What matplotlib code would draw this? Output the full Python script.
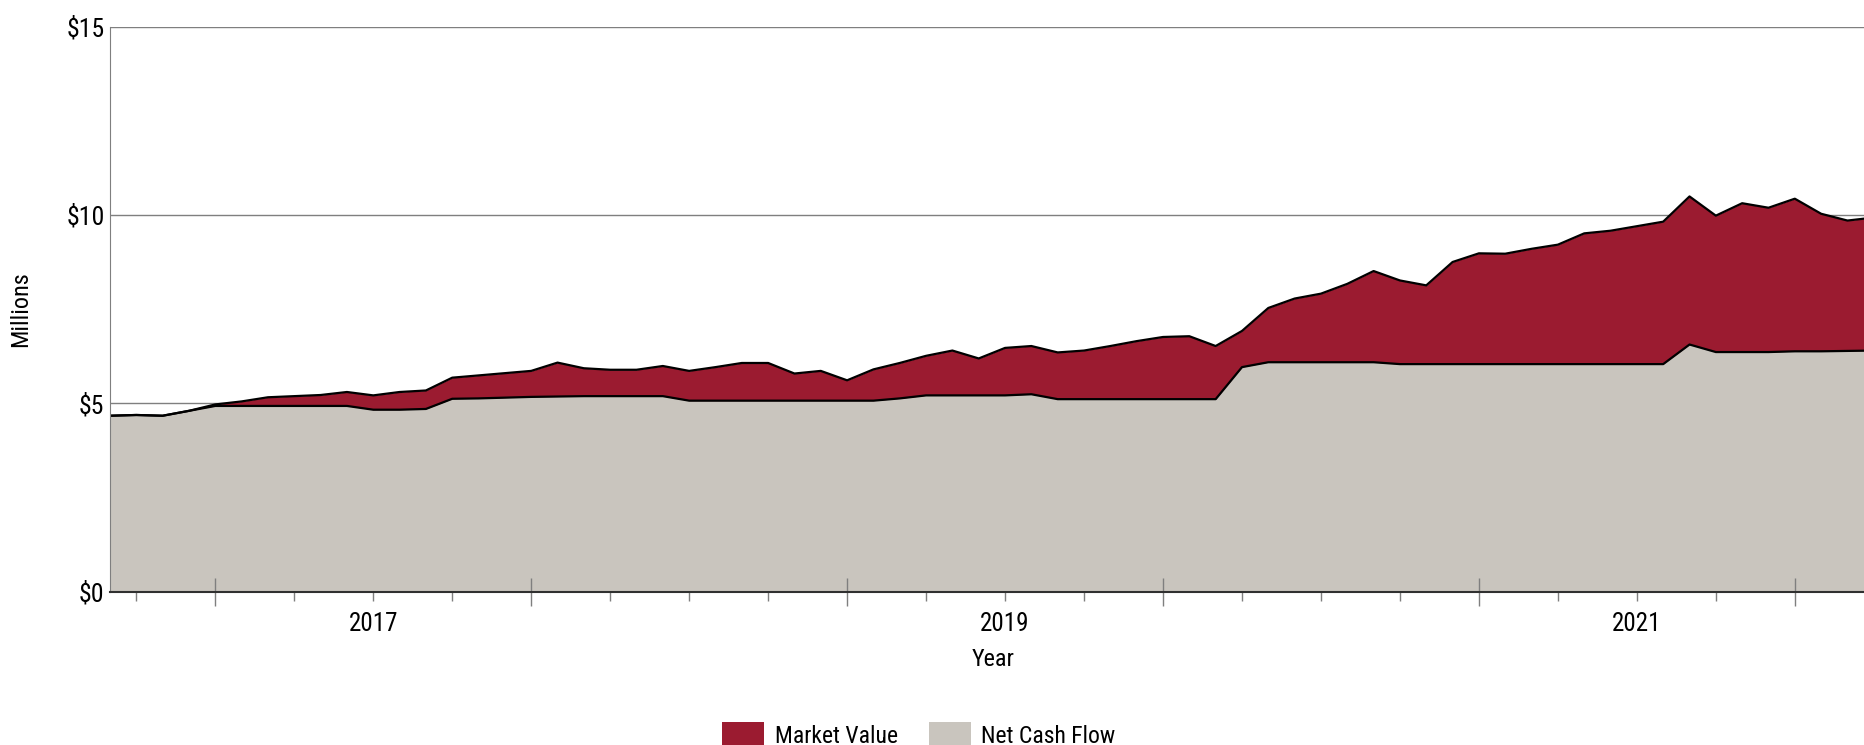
import numpy as np
import pandas as pd
import matplotlib
matplotlib.use("Agg")
import matplotlib.pyplot as plt
from matplotlib import font_manager as fm
from matplotlib.patches import Patch

# monthly values, $ millions
months = pd.date_range("2016-03-01", periods=68, freq="MS")

market_value = [4.67, 4.69, 4.67, 4.80, 4.97, 5.05, 5.16, 5.19, 5.22, 5.30,
                5.21, 5.30, 5.34, 5.68, 5.74, 5.80, 5.86, 6.08, 5.93, 5.89,
                5.89, 5.99, 5.86, 5.96, 6.07, 6.07, 5.79, 5.86, 5.61, 5.90,
                6.07, 6.26, 6.40, 6.19, 6.47, 6.52, 6.35, 6.40, 6.52, 6.65,
                6.76, 6.78, 6.52, 6.92, 7.53, 7.78, 7.91, 8.17, 8.51, 8.26,
                8.13, 8.75, 8.98, 8.97, 9.10, 9.21, 9.51, 9.58, 9.70, 9.82,
                10.49, 9.98, 10.31, 10.19, 10.43, 10.03, 9.85, 9.93]

net_cash_flow = [4.67, 4.69, 4.67, 4.80, 4.93, 4.93, 4.93, 4.93, 4.93, 4.93,
                 4.83, 4.83, 4.85, 5.12, 5.13, 5.15, 5.17, 5.18, 5.19, 5.19,
                 5.19, 5.19, 5.07, 5.07, 5.07, 5.07, 5.07, 5.07, 5.07, 5.07,
                 5.13, 5.21, 5.21, 5.21, 5.21, 5.24, 5.11, 5.11, 5.11, 5.11,
                 5.11, 5.11, 5.11, 5.96, 6.09, 6.09, 6.09, 6.09, 6.09, 6.04,
                 6.04, 6.04, 6.04, 6.04, 6.04, 6.04, 6.04, 6.04, 6.04, 6.04,
                 6.56, 6.36, 6.36, 6.36, 6.38, 6.38, 6.39, 6.40]

year_labels = ["2017", "2019", "2021"]
y_ticks = [0, 5, 10, 15]

red = "#9b1b30"
gray = "#c9c5be"

# the original uses a narrow Arial-like face; use one if it is there
installed = {f.name for f in fm.fontManager.ttflist}
narrow = [n for n in ["Liberation Sans Narrow", "Arial Narrow", "Nimbus Sans Narrow",
                      "Roboto Condensed", "Open Sans Condensed"] if n in installed]
if narrow:
    plt.rcParams["font.family"] = [narrow[0], "DejaVu Sans"]
    fs = 17.5
else:
    plt.rcParams["font.family"] = ["Liberation Sans", "DejaVu Sans"]
    fs = 16

t = months.year + (months.month - 1) / 12

W, H = 1864, 745
fig = plt.figure(figsize=(W / 100, H / 100), dpi=100)
ax = fig.add_axes([110 / W, 1 - 591.7 / H, 1 - 110 / W, (591.7 - 26.5) / H])

for y in y_ticks[1:]:
    ax.axhline(y, color="#7f7f7f", lw=1, zorder=0.5)

ax.fill_between(t, 0, market_value, color=red, lw=0, zorder=1)
ax.fill_between(t, 0, net_cash_flow, color=gray, lw=0, zorder=1.1)
ax.plot(t, market_value, color="black", lw=1.6, zorder=2)
ax.plot(t, net_cash_flow, color="black", lw=1.6, zorder=2)

ax.set_xlim(t[0], 2021.719)
ax.set_ylim(0, 15)
ax.set_yticks(y_ticks)
ax.set_yticklabels(["\\$%d" % v for v in y_ticks])
ax.tick_params(axis="y", length=0, pad=4, labelsize=fs + 1)

# year ticks at mid-year, quarter ticks, labels every other year
majors = np.arange(2016.5, 2022, 1.0)
quarters = [q for q in np.arange(2016.25, 2021.72, 0.25) if q % 1 != 0.5]
ax.set_xticks(majors)
ax.set_xticklabels([""] * len(majors))
ax.set_xticks(quarters, minor=True)
ax.set_xticklabels([str(int(q)) if (q % 1 == 0 and str(int(q)) in year_labels) else ""
                    for q in quarters], minor=True)
ax.tick_params(axis="x", which="major", direction="inout", length=19.5, width=1,
               color="#7f7f7f")
ax.tick_params(axis="x", which="minor", direction="out", length=6.5, width=1,
               color="#7f7f7f", labelsize=fs + 0.5, pad=8)

for s in ["top", "right"]:
    ax.spines[s].set_visible(False)
ax.spines["left"].set_color("#7f7f7f")
ax.spines["bottom"].set_color("#303030")
ax.spines["bottom"].set_linewidth(1.5)

fig.text(21 / W, 1 - 309 / H, "Millions", rotation=90, ha="center", va="center", fontsize=fs)
fig.text(993 / W, 1 - 660 / H, "Year", ha="center", va="center", fontsize=fs)

handles = [Patch(facecolor=red, edgecolor="none"), Patch(facecolor=gray, edgecolor="none")]
fig.legend(handles, ["Market Value", "Net Cash Flow"], loc="center",
           bbox_to_anchor=(919 / W, 1 - 735 / H), ncol=2, frameon=False,
           fontsize=fs - 0.5, handlelength=42 / ((fs - 0.5) * 1.389),
           handleheight=30 / ((fs - 0.5) * 1.389),
           handletextpad=0.45, columnspacing=1.3, borderpad=0)

fig.savefig("out.png", dpi=100)
